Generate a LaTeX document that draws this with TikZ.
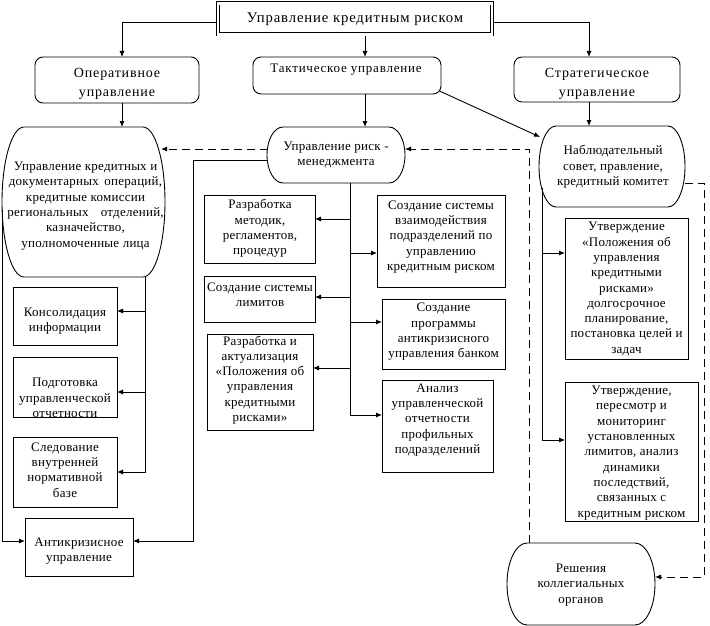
\documentclass[tikz,border=0pt]{standalone}
\usepackage{fontspec}
\setmainfont{Liberation Serif}[LetterSpace=2]
\newfontfamily\wideserif{Liberation Serif}[LetterSpace=6]
\usetikzlibrary{arrows.meta,calc}
\newcommand\txtfont{\fontsize{13}{15.3}\selectfont}
\newcommand\topfont{\wideserif\fontsize{14}{18.5}\selectfont}
\newcommand\taktfont{\wideserif\fontsize{13}{15.3}\selectfont}
\newcommand\titlefont{\wideserif\fontsize{14.7}{16}\selectfont}
\tikzset{
  shp/.style={line width=0.9pt},
  bx/.style={draw, shp, anchor=north west, inner sep=0pt, outer sep=0pt},
  rbx/.style={bx, rounded corners=8pt},
  tm/.style={anchor=north west, inner sep=0pt, outer sep=0pt},
  geom/.style n args={2}{minimum width=#1pt, minimum height=#2pt},
  txt/.style={align=center, inner sep=0pt, font=\txtfont},
  toptxt/.style={align=center, inner sep=0pt, font=\topfont},
  ln/.style={line width=0.9pt},
  arr/.style={ln, -{Latex[length=6pt,width=5pt]}},
  dsh/.style={arr, dash pattern=on 8pt off 5pt},
}
\newcommand\termpath[3]{%
  \draw[shp] ($(#1.north west)+(#2,0)$) -- ($(#1.north east)+(-#2,0)$)
    arc[start angle=90,end angle=-90,x radius=#2pt,y radius=#3pt]
    -- ($(#1.south west)+(#2,0)$)
    arc[start angle=270,end angle=90,x radius=#2pt,y radius=#3pt] -- cycle;}
\begin{document}
\begin{tikzpicture}[x=1pt,y=-1pt]
\useasboundingbox (0,0) rectangle (710,626);
% ---- boxes ----
\node[bx, double, double distance=2.2pt, geom={274}{31}] (title) at (218,3.5) {};
\node[rbx, geom={164}{46}] (oper) at (35,57) {};
\node[rbx, geom={188}{37}] (takt) at (253,57) {};
\node[rbx, geom={166}{45}] (strat) at (514,57) {};
\node[tm, geom={163}{150}] (bigE) at (2,127) {};
\node[tm, geom={138}{56}] (risk) at (267,127) {};
\node[tm, geom={146}{81}] (nabl) at (539,126) {};
\node[tm, geom={148}{82}] (resh) at (507,543) {};
\termpath{bigE}{22}{75}
\termpath{risk}{16}{28}
\termpath{nabl}{17}{40.5}
\termpath{resh}{20}{41}
\node[bx, geom={104}{58}] (kons) at (13,287) {};
\node[bx, geom={104}{60}] (podg) at (13,357) {};
\node[bx, geom={104}{70}] (sled) at (13,437) {};
\node[bx, geom={108}{58}] (antikr) at (25,518) {};
\node[bx, geom={111}{68}] (razr1) at (204,195) {};
\node[bx, geom={111}{46}] (limit) at (204,276) {};
\node[bx, geom={106}{96}] (razr2) at (207,334) {};
\node[bx, geom={128}{92}] (vzaim) at (377,195) {};
\node[bx, geom={123}{70}] (progr) at (382,299) {};
\node[bx, geom={111}{92}] (analiz) at (382,380) {};
\node[bx, geom={123}{141}] (utv1) at (565,218) {};
\node[bx, geom={133}{139}] (utv2) at (565,382) {};
% ---- texts ----
\node[txt, font=\titlefont] (title-t) at (title.center) {Управление кредитным риском};
\node[toptxt] (oper-t) at ($(oper.center)+(0,4)$) {Оперативное\\управление};
\node[txt, font=\taktfont] (takt-t) at ($(takt.center)+(-1,-5.5)$) {Тактическое управление};
\node[toptxt] (strat-t) at ($(strat.center)+(0,4.5)$) {Стратегическое\\управление};
\node[txt] (bigE-t) at ($(bigE.center)+(2,4)$) {Управление кредитных и\\документарных\, операций,\\кредитные комиссии\\региональных\enspace\, отделений,\\казначейство,\\уполномоченные лица};
\node[txt] (risk-t) at (risk.center) {Управление риск -\\менеджмента};
\node[txt] (nabl-t) at ($(nabl.center)+(1,0.5)$) {Наблюдательный\\совет, правление,\\кредитный комитет};
\node[txt] (resh-t) at ($(resh.center)+(0,1)$) {Решения\\коллегиальных\\органов};
\node[txt] (kons-t) at ($(kons.center)+(0,5)$) {Консолидация\\информации};
\node[txt] (podg-t) at ($(podg.center)+(0,11)$) {Подготовка\\управленческой\\отчетности};
\node[txt] (sled-t) at ($(sled.center)+(0,-2)$) {Следование\\внутренней\\нормативной\\базе};
\node[txt] (antikr-t) at ($(antikr.center)+(0,4)$) {Антикризисное\\управление};
\node[txt] (razr1-t) at ($(razr1.center)+(0.5,-0.5)$) {Разработка\\методик,\\регламентов,\\процедур};
\node[txt] (limit-t) at ($(limit.center)+(0.5,-4)$) {Создание системы\\лимитов};
\node[txt] (razr2-t) at ($(razr2.center)+(0,-2)$) {Разработка и\\актуализация\\«Положения об\\управления\\кредитными\\рисками»};
\node[txt] (vzaim-t) at ($(vzaim.center)+(0,-4)$) {Создание системы\\взаимодействия\\подразделений по\\управлению\\кредитным риском};
\node[txt] (progr-t) at ($(progr.center)+(0,-2)$) {Создание\\программы\\антикризисного\\управления банком};
\node[txt] (analiz-t) at ($(analiz.center)+(0,-6)$) {Анализ\\управленческой\\отчетности\\профильных\\подразделений};
\node[txt] (utv1-t) at ($(utv1.center)+(0,0.5)$) {Утверждение\\«Положения об\\управления\\кредитными\\рисками»\\долгосрочное\\планирование,\\постановка целей и\\задач};
\node[txt] (utv2-t) at ($(utv2.center)+(0,1.5)$) {Утверждение,\\пересмотр и\\мониторинг\\установленных\\лимитов, анализ\\динамики\\последствий,\\связанных с\\кредитным риском};
% ---- connectors ----
\draw[arr] ($(title.west)+(-2,3)$) -| ($(oper.north)+(5,0)$);
\draw[arr] ($(title.east)+(2,3)$) -| ($(strat.north)+(-8,0)$);
\draw[arr] ($(title.south)+(10,2)$) -- ($(takt.north)+(18,0)$);
\draw[arr] ($(oper.south)+(5,0)$) -- ($(bigE.north)+(38.5,0)$);
\draw[arr] ($(takt.south)+(18,0)$) -- ($(risk.north)+(29,0)$);
\draw[arr] ($(takt.south east)+(-1.5,-3)$) -- ($(nabl.north west)+(1,11)$);
\draw[arr] ($(strat.south)+(-8,0)$) -- ($(nabl.north)+(-23,0)$);
\draw[dsh] ($(risk.west)+(0.5,-6)$) -- ($(bigE.east)+(-4,-53)$);
\draw[dsh] ($(resh.north west)+(22,0)$) |- ($(risk.east)+(0,-6)$);
\draw[dsh] ($(nabl.east)+(0,16.5)$) -- ++(19,0) |- ($(resh.east)+(0,-7)$);
\draw[arr] ($(nabl.west)+(3,21.5)$) |- ($(utv2.west)+(0,-11.5)$);
\draw[arr] ($(nabl.west)+(3,21.5)$) |- ($(utv1.west)+(0,-35.5)$);
\draw[arr] ($(risk.south)+(14,0)$) |- ($(analiz.west)+(0,-11)$);
\draw[arr] ($(risk.south)+(14,0)$) |- ($(razr1.east)+(0,-10)$);
\draw[arr] ($(risk.south)+(14,0)$) |- ($(limit.east)+(0,-2)$);
\draw[arr] ($(risk.south)+(14,0)$) |- ($(razr2.east)+(0,-14)$);
\draw[arr] ($(risk.south)+(14,0)$) |- ($(vzaim.west)+(0,12)$);
\draw[arr] ($(risk.south)+(14,0)$) |- ($(progr.west)+(0,-12)$);
\draw[arr] ($(risk.west)+(0.5,5)$) -| ($(antikr.east)+(60,-6)$) -- ($(antikr.east)+(0,-6)$);
\draw[arr] ($(bigE.south)+(61.5,-0.5)$) |- (sled.east);
\draw[arr] ($(bigE.south)+(61.5,-0.5)$) |- ($(kons.east)+(0,-5)$);
\draw[arr] ($(bigE.south)+(61.5,-0.5)$) |- ($(podg.east)+(0,5)$);
\draw[arr] ($(bigE.west)+(0,8)$) |- ($(antikr.west)+(0,-6)$);
\end{tikzpicture}
\end{document}
